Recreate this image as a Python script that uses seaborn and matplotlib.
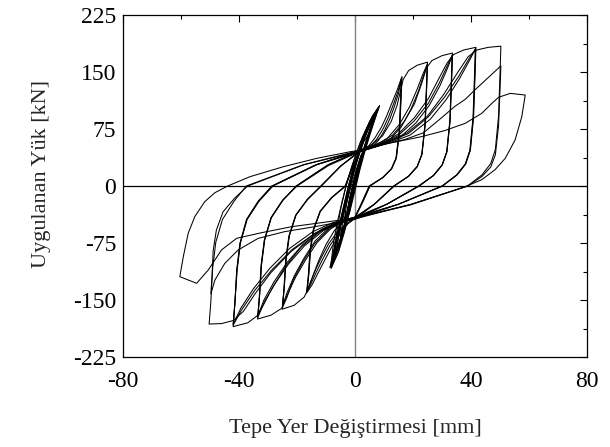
import pandas as pd
import matplotlib
matplotlib.use("Agg")
import matplotlib.pyplot as plt
import seaborn as sns
from matplotlib.ticker import MultipleLocator

# tepe yer degistirmesi [mm] / yuk [kN], cevrim cevrim okunan noktalar

# kucuk cevrimler (orta bant)
s1_x = [-2.5, -1.5, -0.5, 0.8, 2.0, 0.5, -0.8, -1.8, -2.5]
s1_y = [-30, -12, 5, 22, 30, 18, 0, -15, -30]
s2_x = [-3.8, -2.4, -1.0, 0.5, 2.0, 3.5, 2.0, 0.3, -1.5, -2.9, -3.8]
s2_y = [-48, -28, -5, 18, 38, 50, 40, 20, -2, -24, -48]
s3_x = [-5.0, -3.3, -1.8, -0.2, 1.4, 3.2, 5.0, 3.0, 1.0, -0.8, -2.4, -3.9, -5.0]
s3_y = [-68, -45, -20, 5, 30, 52, 70, 58, 38, 12, -12, -38, -68]
s4_x = [-6.5, -4.4, -2.6, -0.8, 0.9, 2.6, 4.5, 6.5, 4.3, 2.2, 0.2, -1.6, -3.3, -5.0, -6.5]
s4_y = [-85, -62, -35, -8, 18, 42, 65, 88, 74, 54, 28, 2, -25, -52, -85]
s5_x = [-7.6, -5.4, -3.2, -1.4, 0.2, 1.8, 3.6, 5.6, 7.8, 5.6, 3.2, 1.0, -1.0, -2.8, -4.5, -6.3, -7.6]
s5_y = [-100, -78, -50, -22, 5, 30, 56, 80, 100, 86, 66, 42, 15, -12, -40, -70, -100]
s6_x = [-8.0, -5.6, -3.6, -1.8, -0.2, 1.4, 3.2, 5.1, 6.8, 8.4, 6.0, 3.6, 1.4, -0.8, -2.6, -4.3, -6.0, -7.3, -8.0]
s6_y = [-106, -86, -60, -32, -4, 22, 48, 72, 90, 105, 92, 72, 48, 22, -5, -33, -62, -88, -106]
s7_x = [-7.8, -5.2, -3.0, -1.2, 0.5, 2.2, 4.2, 6.2, 8.2, 5.8, 3.2, 1.0, -1.2, -3.0, -4.8, -6.6, -7.8]
s7_y = [-103, -75, -47, -20, 6, 32, 58, 82, 102, 86, 62, 36, 10, -17, -44, -72, -103]
s8_x = [-8.2, -5.9, -3.9, -2.1, -0.4, 1.2, 3.0, 4.9, 6.7, 8.5, 6.2, 3.9, 1.7, -0.5, -2.3, -4.0, -5.7, -7.1, -8.2]
s8_y = [-108, -88, -62, -34, -6, 20, 46, 70, 89, 106, 93, 74, 50, 24, -3, -31, -60, -86, -108]
s9_x = [-7.0, -4.6, -2.4, -0.6, 1.0, 2.7, 4.6, 7.0, 4.3, 1.6, -0.9, -3.1, -4.8, -6.2, -7.0]
s9_y = [-92, -65, -36, -8, 18, 42, 66, 92, 78, 55, 28, 0, -28, -58, -92]
s10_x = [-8.3, -5.8, -3.5, -1.5, 0.2, 1.9, 3.8, 5.8, 8.0, 5.2, 2.5, 0.0, -2.4, -4.3, -6.0, -7.4, -8.3]
s10_y = [-104, -80, -52, -24, 4, 30, 56, 80, 103, 86, 64, 38, 10, -18, -46, -74, -104]
s11_x = [-6.8, -4.0, -1.8, 0.0, 1.6, 3.3, 5.2, 7.4, 5.2, 2.8, 0.6, -1.4, -3.2, -5.0, -6.8]
s11_y = [-90, -62, -34, -6, 20, 44, 68, 94, 80, 58, 32, 6, -22, -54, -90]
s12_x = [-8.6, -6.4, -4.4, -2.6, -1.0, 0.6, 2.4, 4.2, 6.0, 7.6, 5.0, 2.6, 0.4, -1.8, -3.6, -5.3, -7.0, -8.6]
s12_y = [-107, -88, -64, -38, -12, 14, 40, 64, 84, 100, 84, 60, 34, 6, -22, -50, -78, -107]

# +/-16.7 mm
a16_1_x = [1.8, 4.6, 7.0, 9.2, 11.0, 12.7, 14.5, 16.2, 15.9, 15.4, 14.3, 12.7, 9.7, 5.2, 2.6, 0.0,
           -2.5, -5.0, -8.0, -10.5, -12.8, -14.8, -16.7, -16.1, -15.5, -14.4, -12.1, -8.1, -3.4, -0.8, 1.8]
a16_1_y = [47, 52, 64, 78, 93, 109, 126, 144, 115, 72, 37, 23, 11.5, 0, -22, -42,
           -50, -62, -80, -98, -115, -130, -141, -118, -85, -58, -34, -15.5, 0, 26, 47]
a16_2_x = [1.6, 5.0, 7.6, 9.8, 11.6, 13.2, 14.8, 16.1, 15.8, 15.3, 14.2, 12.6, 9.6, 5.0, 2.4, -0.2,
           -2.8, -5.5, -8.6, -11.1, -13.3, -15.1, -16.6, -16.0, -15.4, -14.3, -12.0, -8.0, -3.3, -0.7, 1.6]
a16_2_y = [46, 51, 62, 76, 91, 107, 124, 142.5, 114, 71, 37, 23, 11, 0, -22, -43,
           -50, -61, -78, -96, -113, -128, -139, -117, -83, -57, -33, -15, 0, 26, 46]
a16_3_x = [1.5, 5.4, 8.1, 10.3, 12.1, 13.6, 15.0, 16.0, 15.7, 15.2, 14.1, 12.5, 9.5, 4.9, 2.3, -0.4,
           -3.1, -6.0, -9.1, -11.6, -13.7, -15.3, -16.5, -15.9, -15.3, -14.2, -11.9, -7.9, -3.2, -0.7, 1.5]
a16_3_y = [45, 50, 60, 74, 89, 105, 122, 141, 113, 70, 36, 22, 11, 0, -22, -44,
           -50, -60, -76, -94, -111, -126, -138, -116, -83, -57, -33, -15, 0, 26, 45]

# +/-25 mm
a25_1_x = [1.8, 6.0, 9.5, 12.5, 14.5, 15.8, 16.6, 18.5, 21.5, 25.0, 24.7, 24.2, 23.1, 21.5, 18.5, 13.5, 6.7, 0.0,
           -4.0, -7.0, -10.0, -12.5, -14.5, -16.0, -17.5, -21.0, -25.1, -24.5, -23.9, -22.8, -20.5, -16.5, -11.8, -5.0, 1.8]
a25_1_y = [47, 55, 66, 85, 106, 127, 140, 152, 159, 163, 130, 81.5, 42, 26, 13, 0, -24, -42,
           -48, -58, -77, -98, -118, -134, -146, -157, -162, -136, -97, -66, -39, -18, 0, 26, 47]
a25_2_x = [1.7, 7.0, 11.0, 15.3, 18.8, 21.5, 23.5, 25.0, 24.7, 24.2, 23.1, 21.5, 18.5, 13.5, 6.7, 0.2,
           -4.5, -8.3, -13.0, -17.0, -20.5, -23.3, -25.0, -24.4, -23.8, -22.7, -20.4, -16.4, -11.7, -5.0, 1.7]
a25_2_y = [46, 53, 62, 81, 104, 128, 148, 161, 129, 80.5, 42, 26, 13, 0, -24, -43,
           -48, -56, -74, -97, -120, -143, -160, -134, -96, -66, -38, -18, 0, 26, 46]
a25_3_x = [1.5, 7.5, 11.8, 16.0, 19.3, 21.9, 23.7, 24.9, 24.6, 24.1, 23.0, 21.4, 18.4, 13.3, 6.6, 0.0,
           -5.0, -9.0, -13.7, -17.6, -20.9, -23.5, -25.0, -24.4, -23.7, -22.6, -20.3, -16.3, -11.6, -5.0, 1.5]
a25_3_y = [45, 52, 60, 78, 101, 125, 146, 159, 127, 79.5, 41, 25, 12.5, 0, -24, -41,
           -47, -55, -72, -95, -118, -141, -158, -133, -95, -65, -38, -17, 0, 26, 45]

# +/-33.6 mm
a33_1_x = [1.8, 8.5, 13.0, 17.0, 20.5, 23.0, 24.6, 26.5, 30.0, 33.6, 33.3, 32.8, 31.7, 30.1, 27.1, 22.1, 11.0, 0.0,
           -5.0, -9.0, -14.0, -18.0, -21.5, -23.6, -25.3, -29.0, -33.6, -33.0, -32.4, -31.3, -29.0, -25.0, -20.3, -9.3, 1.8]
a33_1_y = [47, 57, 67, 85, 108, 135, 155, 165, 171.5, 175, 140, 87.5, 45.5, 28, 14, 0, -24, -42,
           -48, -57, -76, -100, -125, -148, -161, -170, -175, -147, -105, -72, -42, -19, 0, 28, 47]
a33_2_x = [1.7, 9.4, 14.8, 20.5, 25.3, 29.0, 31.7, 33.6, 33.3, 32.8, 31.7, 30.1, 27.1, 22.1, 11.0, 0.2,
           -5.5, -11.0, -17.5, -23.0, -27.5, -31.2, -33.5, -32.9, -32.3, -31.2, -28.9, -24.9, -20.2, -9.2, 1.7]
a33_2_y = [46, 56, 66, 86, 109, 135, 157, 173, 138, 86.5, 45, 27.7, 13.8, 0, -24, -43,
           -48, -59, -79, -103, -128, -152, -173, -145, -104, -71, -42, -19, 0, 28, 46]
a33_3_x = [1.5, 9.8, 15.5, 21.0, 25.6, 29.3, 31.9, 33.5, 33.2, 32.7, 31.6, 30.0, 27.0, 21.9, 10.9, 0.0,
           -6.0, -11.5, -18.0, -23.5, -27.9, -31.4, -33.5, -32.9, -32.2, -31.1, -28.8, -24.8, -20.0, -9.1, 1.5]
a33_3_y = [45, 55, 64, 83, 106, 132, 155, 171, 137, 85.5, 44.5, 27.4, 13.7, 0, -24, -41,
           -47, -57, -77, -101, -126, -150, -171, -143, -103, -70, -41, -18, 0, 27, 45]

# +/-42 mm
a42_1_x = [1.8, 9.4, 14.8, 20.5, 25.3, 29.0, 31.8, 34.0, 37.5, 41.7, 41.4, 40.9, 39.8, 38.2, 35.2, 30.2, 15.0, 0.0,
           -6.0, -12.0, -18.5, -24.0, -28.5, -31.5, -33.8, -37.0, -42.0, -41.4, -40.8, -39.7, -37.4, -33.4, -28.7, -13.5, 1.8]
a42_1_y = [47, 57, 68, 90, 115, 142, 162, 173, 179, 182.5, 146, 91, 47.5, 29, 14.6, 0, -24, -42,
           -49, -60, -80, -106, -134, -156, -171, -180, -185, -155, -111, -76, -44, -20, 0, 28, 47]
a42_2_x = [1.7, 11.5, 18.4, 25.3, 31.0, 35.7, 39.1, 41.6, 41.3, 40.8, 39.7, 38.1, 35.1, 30.1, 15.0, 0.5,
           -6.9, -13.8, -21.8, -28.7, -34.5, -39.1, -42.0, -41.4, -40.7, -39.6, -37.3, -33.2, -28.5, -13.3, 1.7]
a42_2_y = [46, 58, 69, 91, 117.5, 144, 166, 181, 145, 90.5, 47, 29, 14.5, 0, -24, -43,
           -49, -62, -84, -110.5, -137, -163, -183, -153, -110, -75, -44, -20, 0, 28, 46]
a42_3_x = [1.5, 12.0, 19.0, 26.0, 31.5, 36.0, 39.3, 41.5, 41.2, 40.7, 39.6, 38.0, 35.0, 30.0, 14.9, 0.0,
           -7.5, -14.5, -22.5, -29.3, -35.0, -39.4, -42.0, -41.4, -40.6, -39.5, -37.2, -33.1, -28.3, -13.2, 1.5]
a42_3_y = [45, 57, 67, 88, 114, 141, 164, 180, 144, 90, 46.8, 28.8, 14.4, 0, -24, -41,
           -48, -60, -82, -108, -135, -161, -182, -152, -109, -75, -44, -20, 0, 28, 45]

# +/-50 mm
a50_1_x = [1.8, 11.0, 18.0, 25.0, 30.5, 35.5, 39.0, 42.0, 46.0, 50.3, 50.0, 49.5, 48.4, 46.8, 43.8, 38.8, 19.4, 0.0,
           -7.0, -14.0, -22.0, -29.0, -34.5, -38.5, -42.0, -46.0, -50.3, -49.7, -49.1, -48.0, -45.7, -41.7, -37.5, -17.8, 1.8]
a50_1_y = [47, 58, 70, 92, 120, 150, 170, 179, 182.5, 184, 147, 92, 48, 29.5, 14.7, 0, -24, -42,
           -50, -63, -86, -114, -142, -165, -177, -181, -181.6, -152, -109, -74, -44, -20, 0, 28, 47]
a50_2_x = [1.7, 10.0, 17.0, 23.6, 29.9, 34.5, 38.0, 41.5, 44.9, 48.3, 50.3, 50.0, 49.5, 48.4, 46.8, 43.8, 38.8, 19.4, 0.3,
           -6.0, -13.8, -24.2, -33.4, -40.3, -44.9, -48.3, -49.7, -49.3, -48.9, -47.8, -45.5, -41.5, -37.0, -17.6, 1.7]
a50_2_y = [46, 55, 61, 70, 90, 105, 114, 127, 139, 151, 158, 126, 79, 41, 25, 12.6, 0, -24, -43,
           -48, -53.5, -60, -68.9, -84.2, -101.8, -123.7, -142, -119, -85, -58, -34, -16, 0, 28, 46]

# son cevrim (+58.7 / -60.4 mm)
a59_x = [1.5, 11.5, 23.0, 31.0, 38.0, 43.7, 47.2, 49.5, 53.5, 58.7, 57.5, 55.2, 51.8, 48.3, 43.7, 38.0, 19.0, 0.0,
         -9.2, -21.8, -32.2, -40.8, -46.0, -50.6, -54.6, -60.4, -59.2, -57.5, -55.2, -51.8, -48.3, -43.9,
         -36.2, -24.7, -13.2, -1.7, 1.5]
a59_y = [47, 56, 65, 73, 82.5, 95.6, 108.8, 116.7, 121.9, 119.7, 91, 60.5, 36.4, 21.5, 8.3, -1, -25, -42,
         -47, -53.5, -61.4, -68.8, -84, -110.5, -128, -119.3, -93, -62, -40, -20.6, -8.8, 0,
         12.3, 25.4, 36.4, 45.1, 47]

x_ticks = [-80, -40, 0, 40, 80]
y_ticks = [-225, -150, -75, 0, 75, 150, 225]

loops = [
    (s1_x, s1_y), (s2_x, s2_y), (s3_x, s3_y), (s4_x, s4_y), (s5_x, s5_y), (s6_x, s6_y),
    (s7_x, s7_y), (s8_x, s8_y), (s9_x, s9_y), (s10_x, s10_y), (s11_x, s11_y), (s12_x, s12_y),
    (a16_1_x, a16_1_y), (a16_2_x, a16_2_y), (a16_3_x, a16_3_y),
    (a25_1_x, a25_1_y), (a25_2_x, a25_2_y), (a25_3_x, a25_3_y),
    (a33_1_x, a33_1_y), (a33_2_x, a33_2_y), (a33_3_x, a33_3_y),
    (a42_1_x, a42_1_y), (a42_2_x, a42_2_y), (a42_3_x, a42_3_y),
    (a50_1_x, a50_1_y), (a50_2_x, a50_2_y),
    (a59_x, a59_y),
]

frames = []
for i, (lx, ly) in enumerate(loops):
    frames.append(pd.DataFrame({"x": lx, "y": ly, "loop": i}))
df = pd.concat(frames, ignore_index=True)


sns.set_theme(style="white")
plt.rcParams["font.family"] = ["Liberation Serif", "DejaVu Serif"]
plt.rcParams["axes.unicode_minus"] = False

fig = plt.figure(figsize=(6.10, 4.47), dpi=100)
ax = fig.add_axes([0.2016, 0.2013, 0.9623 - 0.2016, 0.9664 - 0.2013])

ax.axhline(0, color="black", lw=0.9, zorder=1)
ax.axvline(0, color="#808080", lw=1.0, zorder=1)

sns.lineplot(
    data=df,
    x="x",
    y="y",
    units="loop",
    estimator=None,
    sort=False,
    color="black",
    linewidth=0.75,
    ax=ax,
    zorder=2,
)

ax.set_xlim(-80, 80)
ax.set_ylim(-225, 225)
ax.set_xticks(x_ticks)
ax.set_yticks(y_ticks)
ax.xaxis.set_minor_locator(MultipleLocator(20))
ax.yaxis.set_minor_locator(MultipleLocator(37.5))
ax.tick_params(which="both", direction="in", top=True, right=True, colors="black", width=0.8)
ax.tick_params(which="major", length=5)
ax.tick_params(which="minor", length=3)
ax.tick_params(axis="x", which="major", labelsize=17, pad=10)
ax.tick_params(axis="y", which="major", labelsize=17, pad=5)

for sp in ax.spines.values():
    sp.set_color("black")
    sp.set_linewidth(0.9)

ax.set_xlabel("Tepe Yer Değiştirmesi [mm]", fontsize=16)
ax.set_ylabel("Uygulanan Yük [kN]", fontsize=16)
ax.xaxis.set_label_coords(0.5, -0.18)
ax.yaxis.set_label_coords(-0.155, 0.535)

fig.savefig("out.png", dpi=100)
